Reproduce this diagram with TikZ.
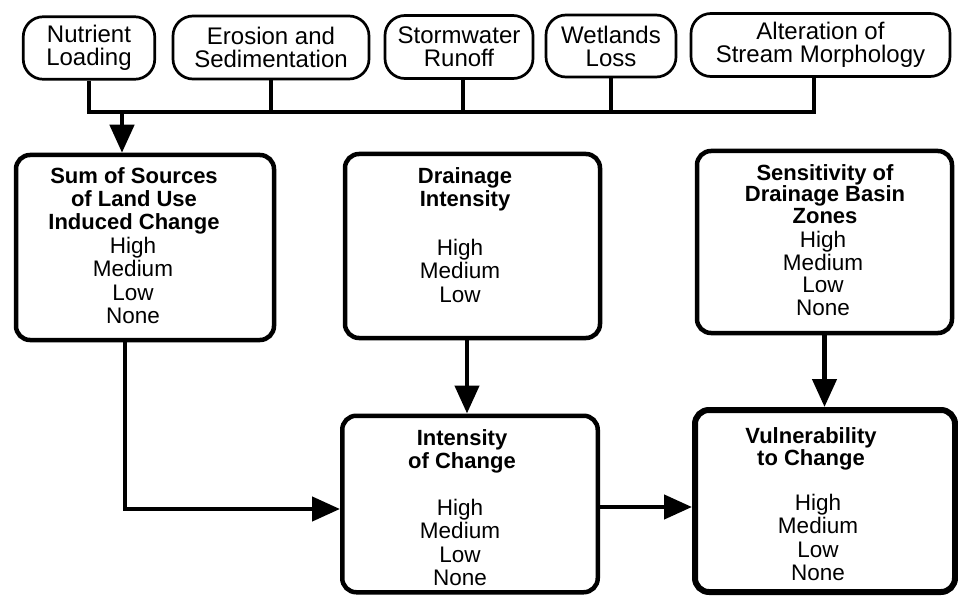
\documentclass[tikz,border=0pt]{standalone}
\usepackage{fontspec}
\setmainfont{Liberation Sans}
\usetikzlibrary{arrows.meta}
\tikzset{
  topbox/.style={draw, rounded corners=20pt, line width=2.7pt, inner sep=0pt, align=center,
    font=\fontsize{24pt}{23pt}\selectfont},
  bigbox/.style={draw, rounded corners=14pt, line width=4.5pt, inner sep=0pt},
  ttl/.style={anchor=north, inner sep=0pt, align=center, font=\bfseries\fontsize{22pt}{23.3pt}\selectfont},
  vals/.style={anchor=north, inner sep=0pt, align=center, font=\fontsize{22.5pt}{23.3pt}\selectfont},
  busline/.style={line width=3.5pt},
  arr/.style={line width=4.5pt, -{Triangle[length=28pt,width=24pt]}}
}
\begin{document}
\begin{tikzpicture}[x=1pt, y=-1pt]
\useasboundingbox (0,0) rectangle (958,596);
% top boxes
\node[topbox, minimum width=131.5pt, minimum height=62.5pt] (nut) at (89,48) {Nutrient\\Loading};
\node[topbox, minimum width=196pt, minimum height=63pt] (ero) at (271,47.5) {Erosion and\\Sedimentation};
\node[topbox, minimum width=148pt, minimum height=63pt] (storm) at (459,47) {Stormwater\\Runoff};
\node[topbox, minimum width=130pt, minimum height=62pt] (wet) at (611,46) {Wetlands\\Loss};
\node[topbox, minimum width=259pt, minimum height=63pt] (alt) at (820.5,45) {Alteration of\\Stream Morphology};
% big boxes
\node[bigbox, minimum width=258pt, minimum height=185pt] (sum) at (145,247.5) {};
\node[bigbox, minimum width=255pt, minimum height=184pt] (drain) at (472.5,246) {};
\node[bigbox, minimum width=255pt, minimum height=182pt] (sens) at (824.5,242) {};
\node[bigbox, minimum width=255.5pt, minimum height=176.5pt] (int) at (470,504) {};
\node[bigbox, line width=6pt, minimum width=260pt, minimum height=182pt] (vul) at (825,501) {};
% texts
\node[ttl] (sumT) at (134,167) {Sum of Sources\\of Land Use\\Induced Change};
\node[vals] (sumV) at (133,237) {High\\Medium\\Low\\None};
\node[ttl] (drainT) at (465,167) {Drainage\\Intensity};
\node[vals] (drainV) at (460,239) {High\\Medium\\Low};
\node[ttl, font=\bfseries\fontsize{22pt}{21.8pt}\selectfont] (sensT) at (825,164) {Sensitivity of\\Drainage Basin\\Zones};
\node[vals, font=\fontsize{22.5pt}{22.7pt}\selectfont] (sensV) at (823,231) {High\\Medium\\Low\\None};
\node[ttl, font=\bfseries\fontsize{22pt}{23pt}\selectfont] (intT) at (462,429) {Intensity\\of Change};
\node[vals] (intV) at (460,499) {High\\Medium\\Low\\None};
\node[ttl, font=\bfseries\fontsize{22pt}{22.5pt}\selectfont] (vulT) at (811,427) {Vulnerability\\to Change};
\node[vals] (vulV) at (818,494) {High\\Medium\\Low\\None};
% bus connectors
\coordinate (altstem) at (814,112);
\coordinate (sumin) at (122,112);
\draw[busline] (nut.south) |- (altstem) -- (altstem |- alt.south);
\draw[busline] (ero.south) -- (ero.south |- altstem);
\draw[busline] ([xshift=4pt]storm.south) -- ([xshift=4pt]storm.south |- altstem);
\draw[busline] (wet.south) -- (wet.south |- altstem);
\draw[arr] (sumin) -- (sumin |- sum.north);
% main arrows
\draw[arr] ([xshift=-20pt]sum.south) |- ([yshift=-5pt]int.west);
\draw[arr] ([xshift=-5.5pt]drain.south) -- ([xshift=-5.5pt]drain.south |- int.north);
\draw[arr] ([yshift=-3pt]int.east) -- ([yshift=-3pt]int.east -| vul.west);
\draw[arr] (sens.south) -- (sens.south |- vul.north);
\end{tikzpicture}
\end{document}
